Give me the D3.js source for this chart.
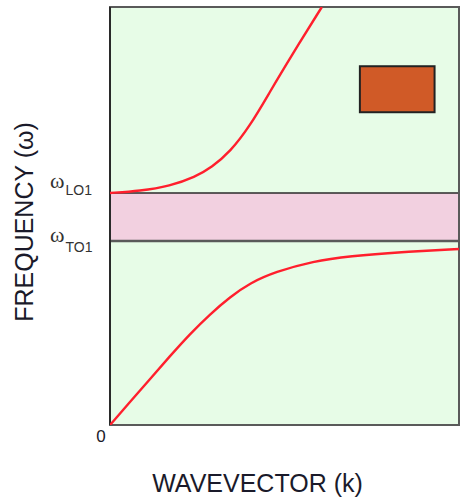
<!DOCTYPE html>
<html>
<head>
<meta charset="utf-8">
<script src="https://cdn.jsdelivr.net/npm/d3@7"></script>
<style>
  body { margin: 0; background: #fff; }
  svg { display: block; }
  .axis-title { font-family: "Liberation Sans", Arial, sans-serif; fill: #1a1a2a; }
</style>
</head>
<body>
<div id="chart"></div>
<script>
// wavevector (0..1 of zone shown) and frequency (in units of w_TO1)
const kLower = [0, 0.057, 0.115, 0.172, 0.229, 0.287, 0.344, 0.401, 0.473, 0.582, 0.688, 0.831, 1.0];
const wLower = [0, 0.125, 0.25, 0.375, 0.495, 0.603, 0.696, 0.772, 0.832, 0.891, 0.918, 0.94, 0.957];

const kUpper = [0, 0.086, 0.172, 0.244, 0.292, 0.344, 0.401, 0.458, 0.516, 0.607];
const wUpper = [1.261, 1.272, 1.299, 1.348, 1.402, 1.484, 1.625, 1.81, 1.995, 2.272];

// characteristic frequencies
const levelNames = ["LO1", "TO1"];
const levelValues = [1.261, 1.0];

const kDomain = [0, 1];
const wDomain = [0, 2.272];

const W = 460, H = 501;
const margin = {top: 7, right: 1, bottom: 76, left: 110};
const width = W - margin.left - margin.right,
    height = H - margin.top - margin.bottom;

const svg = d3.select("#chart").append("svg")
    .attr("width", W)
    .attr("height", H);

const g = svg.append("g")
    .attr("transform", "translate(" + margin.left + "," + margin.top + ")");

const x = d3.scaleLinear().domain(kDomain).range([0, width]);
const y = d3.scaleLinear().domain(wDomain).range([height, 0]);

// clip for curves
g.append("clipPath").attr("id", "plot-clip")
    .append("rect").attr("width", width).attr("height", height);

// background
g.append("rect")
    .attr("width", width)
    .attr("height", height)
    .attr("fill", "#e7fce7");

// reststrahlen band between TO and LO
g.append("rect")
    .attr("x", 0)
    .attr("y", y(levelValues[0]))
    .attr("width", width)
    .attr("height", y(levelValues[1]) - y(levelValues[0]))
    .attr("fill", "#f2d0e0");

// level lines
g.selectAll(".level")
    .data(levelValues)
    .enter().append("line")
    .attr("class", "level")
    .attr("x1", 0).attr("x2", width)
    .attr("y1", d => y(d)).attr("y2", d => y(d))
    .attr("stroke", (d, i) => i === 0 ? "#2a2a2a" : "#5a5a5a")
    .attr("stroke-width", (d, i) => i === 0 ? 1.6 : 2.4);

// frame
g.append("rect")
    .attr("width", width)
    .attr("height", height)
    .attr("fill", "none")
    .attr("stroke", "#5a5a5a")
    .attr("stroke-width", 2);
g.append("line")
    .attr("x1", 0).attr("x2", 0)
    .attr("y1", 0).attr("y2", height)
    .attr("stroke", "#2a2a2a")
    .attr("stroke-width", 2);

// dispersion branches
const line = d3.line()
    .x(d => x(d[0]))
    .y(d => y(d[1]))
    .curve(d3.curveBasis);

const branches = [
    d3.zip(kLower, wLower),
    d3.zip(kUpper, wUpper)
];

g.append("g").attr("clip-path", "url(#plot-clip)")
    .selectAll("path")
    .data(branches)
    .enter().append("path")
    .attr("d", line)
    .attr("fill", "none")
    .attr("stroke", "#ff1f2d")
    .attr("stroke-width", 2.4);

// orange box (inset)
g.append("rect")
    .attr("x", x(0.716))
    .attr("y", y(1.95))
    .attr("width", x(0.93) - x(0.716))
    .attr("height", y(1.70) - y(1.95))
    .attr("fill", "#d05a27")
    .attr("stroke", "#222")
    .attr("stroke-width", 2);

// level labels
const labelOffsets = [-5, 1];
const lab = g.selectAll(".level-label")
    .data(levelNames)
    .enter().append("text")
    .attr("class", "level-label")
    .attr("x", -60)
    .attr("y", (d, i) => y(levelValues[i]) + labelOffsets[i])
    .attr("fill", "#333");
lab.append("tspan")
    .attr("font-family", "'Liberation Serif', 'Times New Roman', serif")
    .attr("font-size", 22)
    .text("ω");
lab.append("tspan")
    .attr("font-family", "'Liberation Sans', Arial, sans-serif")
    .attr("font-size", 14)
    .attr("dx", 1)
    .attr("dy", (d, i) => i === 0 ? 7 : 10)
    .text(d => d);

// origin label
g.append("text")
    .attr("x", -9)
    .attr("y", height + 17)
    .attr("text-anchor", "middle")
    .attr("font-family", "'Liberation Sans', Arial, sans-serif")
    .attr("font-size", 17)
    .attr("fill", "#1a1a2a")
    .text(kDomain[0]);

// axis titles
svg.append("text")
    .attr("class", "axis-title")
    .attr("x", margin.left + width / 2 - 27)
    .attr("y", 492)
    .attr("text-anchor", "middle")
    .attr("font-size", 25)
    .text("WAVEVECTOR (k)");

svg.append("text")
    .attr("class", "axis-title")
    .attr("transform", "translate(33," + 222 + ") rotate(-90)")
    .attr("text-anchor", "middle")
    .attr("font-size", 25)
    .text("FREQUENCY (ω)");
</script>
</body>
</html>
